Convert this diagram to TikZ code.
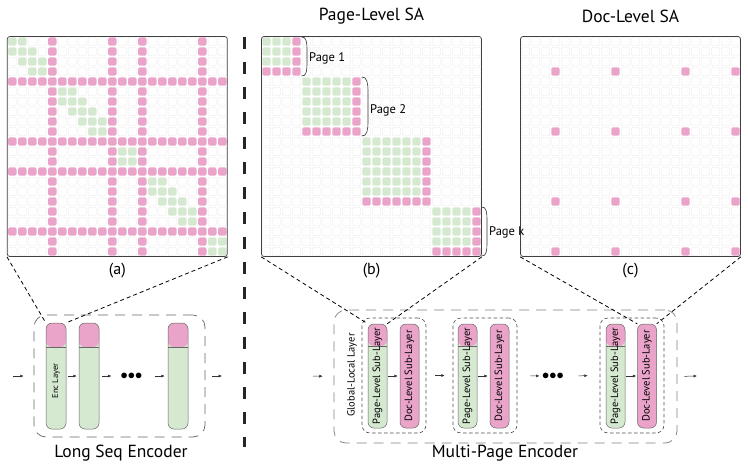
\documentclass[tikz,border=0pt]{standalone}
\usepackage{fontspec}
\setmainfont{PT Sans}
\usepackage{xcolor}
\usepackage{tikz}
\usetikzlibrary{arrows.meta,positioning}

\definecolor{attpink}{RGB}{234,164,202}
\definecolor{attgreen}{RGB}{213,232,208}

\begin{document}
\begin{tikzpicture}[x=1pt, y=-1pt, font=\fontsize{17.5}{20}\selectfont,
  cellE/.style={draw=black!8, line width=0.35pt, fill=white, rounded corners=2pt},
  cellP/.style={fill=attpink, rounded corners=2pt},
  cellG/.style={fill=attgreen, rounded corners=2pt},
  panel/.style={draw=black!75, line width=0.7pt, rounded corners=2.5pt, minimum size=220pt, inner sep=0pt},
  sub/.style={font=\fontsize{16}{18}\selectfont},
  layer/.style={draw=black!60, line width=0.5pt, rounded corners=6pt, minimum width=20pt,
    minimum height=106pt, inner sep=0pt, fill=attgreen},
  sublayer/.style={layer, minimum width=19pt, minimum height=104pt},
  pinktop/.style={path picture={
      \fill[attpink] (path picture bounding box.north west) rectangle ([yshift=-#1]path picture bounding box.north east);
      \draw[black!60, line width=0.5pt] ([yshift=-#1]path picture bounding box.north west) -- ([yshift=-#1]path picture bounding box.north east);}},
  encbox/.style={draw=black!60, line width=0.7pt, dash pattern=on 10pt off 7pt, rounded corners=12pt, inner sep=0pt},
  grpbox/.style={draw=black!70, line width=0.6pt, dash pattern=on 3.5pt off 2.5pt, rounded corners=8pt,
    inner sep=0pt, minimum width=64pt, minimum height=115pt},
  flow/.style={-{Latex[length=3.4pt,width=3pt]}, line width=0.5pt, black!80},
  zoomline/.style={black, line width=0.8pt, dash pattern=on 4pt off 3pt},
  vtext/.style={rotate=90, inner sep=0pt, font=\fontsize{10.5}{12}\selectfont},
  dots/.style={inner sep=0pt, font=\fontsize{14}{14}\selectfont},
  pagelab/.style={anchor=west, inner sep=0pt, font=\fontsize{12.5}{14}\selectfont},
  brace/.style={black!80, line width=0.6pt}]

\useasboundingbox (0,0) rectangle (748,467);

% ---------- panel (a): long sequence attention ----------
\foreach \row in {0,...,21}{
  \foreach \col in {0,...,21}{
    \pgfmathtruncatemacro{\pk}{(\row==4)||(\row==10)||(\row==13)||(\row==19)||(\col==4)||(\col==10)||(\col==13)||(\col==19)}
    \pgfmathtruncatemacro{\gr}{abs(\row-\col)<2}
    \ifnum\pk=1 \def\cellsty{cellP}\else\ifnum\gr=1 \def\cellsty{cellG}\else\def\cellsty{cellE}\fi\fi
    \path[\cellsty] ({7.3+10*\col+0.8},{36.5+10*\row+0.8}) rectangle ++(8.4,8.4);
  }}
\node[panel] (pa) at (117.3,146.5) {};
\node[sub] (la) at (117.3,271) {(a)};

% ---------- panel (b): page-level attention ----------
\foreach \row in {0,...,21}{
  \foreach \col in {0,...,21}{
    \pgfmathtruncatemacro{\br}{(\row>3)+(\row>9)+(\row>16)}
    \pgfmathtruncatemacro{\bc}{(\col>3)+(\col>9)+(\col>16)}
    \pgfmathtruncatemacro{\blkend}{{3,9,16,21}[\br]}
    \ifnum\br=\bc\relax
      \ifnum\row=\blkend\relax \def\cellsty{cellP}\else
        \ifnum\col=\blkend\relax \def\cellsty{cellP}\else\def\cellsty{cellG}\fi\fi
    \else\def\cellsty{cellE}\fi
    \path[\cellsty] ({261.5+10*\col+0.8},{36.5+10*\row+0.8}) rectangle ++(8.4,8.4);
  }}
\node[panel] (pb) at (371.5,146.5) {};
\node (tb) at (371.5,16) {Page-Level SA};
\node[sub] (lb) at (371.5,271) {(b)};

% ---------- panel (c): doc-level attention ----------
\foreach \row in {0,...,21}{
  \foreach \col in {0,...,21}{
    \pgfmathtruncatemacro{\pk}{((\row==3)||(\row==9)||(\row==16)||(\row==21))&&((\col==3)||(\col==9)||(\col==16)||(\col==21))}
    \ifnum\pk=1 \def\cellsty{cellP}\else\def\cellsty{cellE}\fi
    \path[\cellsty] ({520.5+10*\col+0.8},{36.5+10*\row+0.8}) rectangle ++(8.4,8.4);
  }}
\node[panel] (pc) at (630.5,146.5) {};
\node (tc) at (630.5,16) {Doc-Level SA};
\node[sub] (lc) at (630.5,271) {(c)};

% page braces
\draw[brace] (301.5,37) to[out=10,in=90] (307,49) -- (307,64) to[out=-90,in=-10] (301.5,76);
\draw[brace] (361.5,77) to[out=10,in=90] (368,90) -- (368,123) to[out=-90,in=-10] (361.5,136);
\draw[brace] (481.5,207) to[out=10,in=90] (487,219) -- (487,244) to[out=-90,in=-10] (481.5,256);
\node[pagelab] (pg1) at (309,58) {Page 1};
\node[pagelab] (pg2) at (370,110) {Page 2};
\node[pagelab] (pgk) at (489,232) {Page k};

% ---------- separator ----------
\draw[black!85, line width=3pt, dash pattern=on 12pt off 13pt] (244.5,37) -- (244.5,447);

% ---------- long seq encoder ----------
\node[encbox, minimum width=171pt, minimum height=122pt] (lsbox) at (119.5,376) {};
\node[layer, pinktop=24pt] (enc1) at (56,376) {};
\node[layer, pinktop=24pt] (enc2) at (89,376) {};
\node[dots] (ldots) at (131.5,376) {${\bullet}{\bullet}{\bullet}$};
\node[layer, pinktop=24pt] (enc3) at (178,376) {};
\node[vtext, font=\fontsize{8.5}{10}\selectfont] (enct) at (56,381) {Enc Layer};
\node (lsname) at (121,453) {Long Seq Encoder};
\coordinate (lsin) at (13,376);
\coordinate (lsout) at (222,376);
\draw[flow, shorten >=10pt] (lsin) -- (lsbox.west);
\draw[flow, shorten <=2pt, shorten >=2pt] (enc1.east) -- (enc2.west);
\draw[flow, shorten <=3pt, shorten >=9pt] (enc2.east) -- (ldots.west);
\draw[flow, shorten <=12pt, shorten >=3pt] (ldots.east) -- (enc3.west);
\draw[flow, shorten <=7pt] (lsbox.east) -- (lsout);

% ---------- multi-page encoder ----------
\node[encbox, draw=black!50, minimum width=343pt, minimum height=133pt] (mpbox) at (505.5,376.5) {};
\node[vtext] (glt) at (352,375) {Global-Local Layer};
\node[grpbox] (g1) at (394,375.5) {};
\node[grpbox] (g2) at (485,375.5) {};
\node[grpbox] (g3) at (632,375.5) {};
\node[sublayer, pinktop=22pt] (p1) at (377.5,376) {};
\node[sublayer, fill=attpink] (d1) at (409.5,376) {};
\node[sublayer, pinktop=22pt] (p2) at (467.5,376) {};
\node[sublayer, fill=attpink] (d2) at (499.5,376) {};
\node[dots] (mdots) at (553,376) {${\bullet}{\bullet}{\bullet}$};
\node[sublayer, pinktop=22pt] (p3) at (615.5,376) {};
\node[sublayer, fill=attpink] (d3) at (647,376) {};
\foreach \n in {p1,p2,p3}{
  \node[vtext] at (\n) {Page-Level Sub-Layer};}
\foreach \n in {d1,d2,d3}{
  \node[vtext] at (\n) {Doc-Level Sub-Layer};}
\node (mpname) at (505,453) {Multi-Page Encoder};
\coordinate (mpin) at (313,376);
\coordinate (mpout) at (697,376);
\draw[flow, shorten >=11pt] (mpin) -- (mpbox.west);
\draw[flow, shorten <=1pt, shorten >=2pt] (p1.east) -- (d1.west);
\draw[flow, shorten <=9pt, shorten >=8pt] (g1.east) -- (g2.west);
\draw[flow, shorten <=1pt, shorten >=2pt] (p2.east) -- (d2.west);
\draw[flow, shorten <=13pt, shorten >=2.5pt] (g2.east) -- (mdots.west);
\draw[flow, shorten <=14.5pt, shorten >=12pt] (mdots.east) -- (g3.west);
\draw[flow, shorten <=1pt, shorten >=1pt] (p3.east) -- (d3.west);
\draw[flow, shorten <=7pt] (mpbox.east) -- (mpout);

% ---------- zoom lines ----------
\draw[zoomline] (pa.south west) -- (enc1.north west);
\draw[zoomline] (pa.south east) -- (enc1.north east);
\draw[zoomline] (pb.south west) -- (p1.north west);
\draw[zoomline] (pb.south east) -- (p1.north east);
\draw[zoomline] (pc.south west) -- (d3.north west);
\draw[zoomline] (pc.south east) -- (d3.north east);
\end{tikzpicture}
\end{document}
